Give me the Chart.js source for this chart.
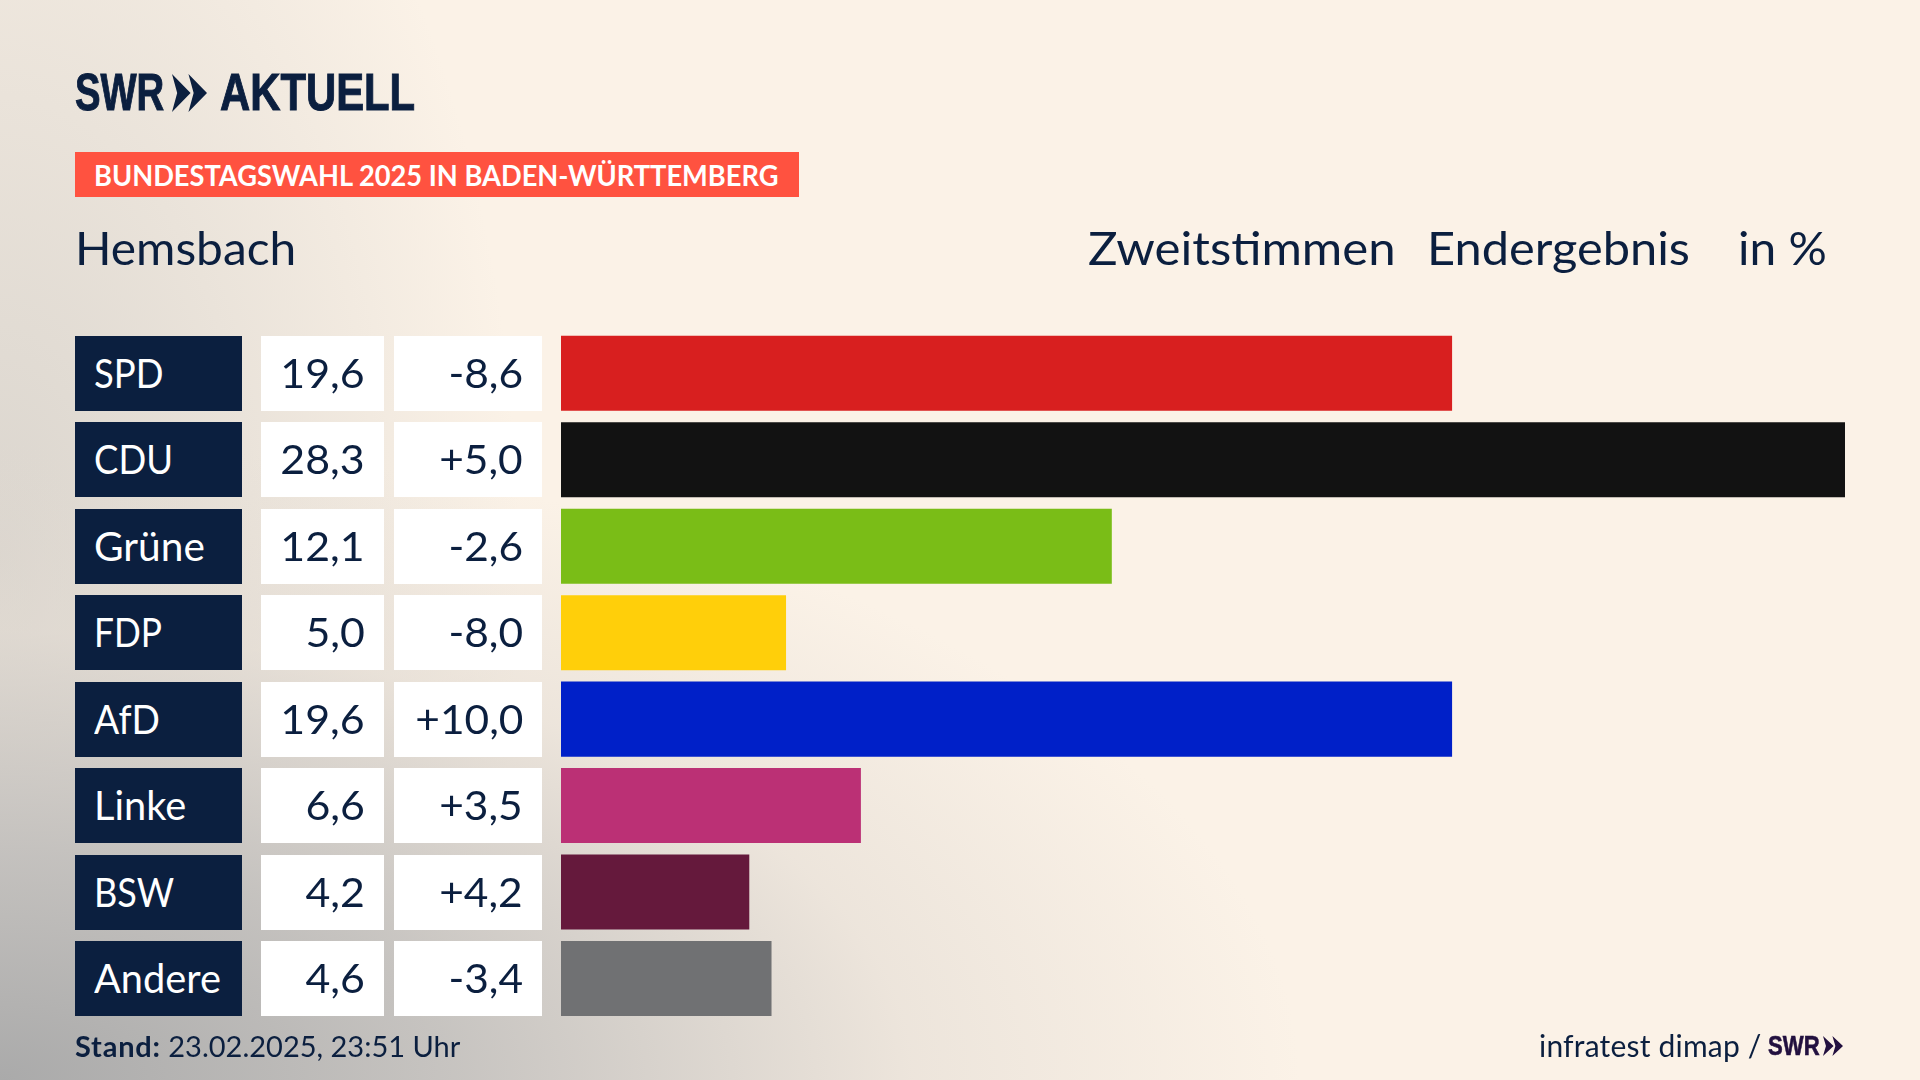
<!DOCTYPE html>
<html lang="de"><head><meta charset="utf-8"><title>Hemsbach</title>
<script src="https://cdn.jsdelivr.net/npm/chart.js@4"></script>
<style>
html,body{margin:0;padding:0;width:1920px;height:1080px;overflow:hidden}
body{position:relative;font-family:Lato,sans-serif;color:#0b1f3f;background-color:#fbf2e7;
background-image:
radial-gradient(ellipse 1300px 640px at 0px 1080px,rgba(170,170,170,1) 0%,rgba(190,188,186,.85) 35%,rgba(225,218,210,.55) 70%,rgba(251,242,231,0) 100%),
radial-gradient(ellipse 520px 950px at 0px 560px,rgba(200,197,192,.65) 0%,rgba(251,242,231,0) 100%);}
canvas{position:absolute;left:0;top:0}
.t{position:absolute;white-space:nowrap;line-height:1;transform-origin:left center}
.box{position:absolute;box-sizing:border-box;white-space:nowrap}
.box span{display:inline-block}
.logo{font-family:"Liberation Sans",sans-serif;font-weight:700;-webkit-text-stroke:1px currentColor}
</style></head><body>
<canvas id="c" width="1920" height="1080"></canvas>
<div class="t logo" style="left:75px;top:67px;font-size:51px;transform:scaleX(.75)">SWR</div>
<div class="t logo" style="left:220px;top:67px;font-size:51px;transform:scaleX(.82)">AKTUELL</div>
<div style="position:absolute;left:75px;top:152px;width:724px;height:45px;background:#ff5240"></div>
<div class="t" style="left:94px;top:160px;font-size:29px;font-weight:700;color:#fff;transform:scaleX(.939)">BUNDESTAGSWAHL 2025 IN BADEN-WÜRTTEMBERG</div>
<div class="t" style="left:75px;top:225px;font-size:46px;transform:scaleX(1.04)">Hemsbach</div>
<div class="t" style="left:1088px;top:225px;font-size:46px;transform:scaleX(1.068)">Zweitstimmen</div>
<div class="t" style="left:1427px;top:225px;font-size:46px;transform:scaleX(1.06)">Endergebnis</div>
<div class="t" style="left:1738px;top:225px;font-size:46px;transform:scaleX(1.04)">in %</div>
<div class="t" style="left:75px;top:1031px;font-size:29px;"><b style="letter-spacing:.8px">Stand:</b> 23.02.2025, 23:51 Uhr</div>
<div class="t" style="left:1539px;top:1030px;font-size:30px;letter-spacing:.2px">infratest dimap /</div>
<div class="t logo" style="left:1768px;top:1032px;font-size:28px;color:#22103f;transform:scaleX(.79);-webkit-text-stroke:.6px #22103f">SWR</div>
<script>
const categories=["SPD","CDU","Grüne","FDP","AfD","Linke","BSW","Andere"];
const values=[19.6,28.3,12.1,5.0,19.6,6.6,4.2,4.6];
const changes=[-8.6,5.0,-2.6,-8.0,10.0,3.5,4.2,-3.4];
const barValues=[19.64,28.3,12.14,4.96,19.64,6.61,4.15,4.64];
const colors=["#d81f1f","#121212","#7abd17","#ffcf0a","#0020c8","#bb3075","#65193c","#707173"];
const labelFit=[.89,.89,.99,.86,.91,.97,.88,.97];

const fmt=v=>v.toFixed(1).replace(".",",");
const fmtD=v=>(v>0?"+":"")+fmt(v);

const chevrons={id:"chevrons",afterDraw(ch){
  const g=ch.ctx;
  const draw=(x,y,w,h,col)=>{g.fillStyle=col;
    [0,.47].forEach(o=>{const ox=x+o*w,cw=w*.53;g.beginPath();
      g.moveTo(ox,y);g.lineTo(ox+cw,y+h/2);g.lineTo(ox,y+h);g.lineTo(ox+cw*.28,y+h/2);g.closePath();g.fill();});};
  draw(172,74,35,38,"#0b1f3f");
  draw(1823,1036,20,20,"#22103f");
}};

const chart=new Chart(document.getElementById("c"),{
  type:"bar",
  data:{labels:categories,datasets:[{data:barValues,backgroundColor:colors,borderWidth:0,
    categoryPercentage:1,barPercentage:.868}]},
  options:{indexAxis:"y",responsive:false,animation:false,devicePixelRatio:1,
    layout:{padding:{left:561,right:75,top:330.1,bottom:58.3}},
    plugins:{legend:{display:false},tooltip:{enabled:false},title:{display:false}},
    scales:{x:{display:false,min:0,max:28.3},y:{display:false}}},
  plugins:[chevrons]
});

const H=75;
function cell(left,width,cy,text,o){
  const d=document.createElement("div");d.className="box";
  const s=document.createElement("span");s.textContent=text;
  s.style.transform=`scaleX(${o.fit})`;s.style.transformOrigin=o.al+" center";
  d.appendChild(s);
  d.style.cssText+=`left:${left}px;width:${width}px;top:${cy-H/2}px;height:${H}px;line-height:${H-2}px;font-size:41px;background:${o.bg};color:${o.fg};text-align:${o.al};padding:0 ${o.pad}px;`;
  document.body.appendChild(d);
}
categories.forEach((c,i)=>{
  const cy=chart.scales.y.getPixelForValue(i);
  cell(75,167,cy,c,{bg:"#0b1f3f",fg:"#fff",al:"left",pad:19,fit:labelFit[i]});
  cell(261,123,cy,fmt(values[i]),{bg:"#fff",fg:"#0b1f3f",al:"right",pad:19,fit:1.045});
  cell(394,148,cy,fmtD(changes[i]),{bg:"#fff",fg:"#0b1f3f",al:"right",pad:19,fit:1.035});
});
</script></body></html>
